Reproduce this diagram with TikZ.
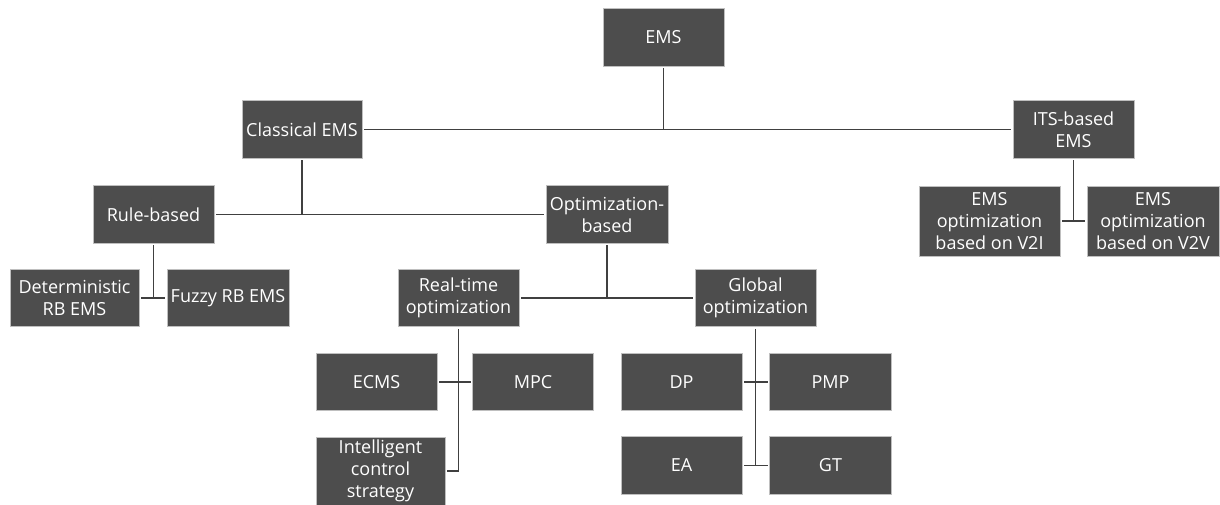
\documentclass[tikz,border=0pt]{standalone}
\usepackage{fontspec}
\setmainfont{Open Sans}
\definecolor{boxfill}{HTML}{4D4D4D}
\definecolor{boxline}{HTML}{BFBFBF}
\definecolor{connline}{HTML}{404040}
\tikzset{
  box/.style={draw=boxline, line width=0.6pt, fill=boxfill, text=white, align=center,
    inner sep=0pt, outer sep=2pt, font=\fontsize{18}{22}\selectfont,
    minimum width=121pt, minimum height=57.5pt},
  conn/.style={draw=connline, line width=1.6pt}
}
\begin{document}
\begin{tikzpicture}[x=1pt,y=-1pt]
\useasboundingbox[fill=white] (0,0) rectangle (1220,504);
% nodes
\node[box] (ems) at (663.5,37.5) {EMS};
\node[box, minimum width=120pt] (cl) at (302,129.5) {Classical EMS};
\node[box] (its) at (1073.5,129.5) {ITS-based\\EMS};
\node[box] (rb) at (153.5,214.5) {Rule-based};
\node[box, minimum width=122pt] (ob) at (607,214.5) {Optimization-\\based};
\node[box, minimum width=141pt, minimum height=70pt] (v2i) at (989.5,221) {EMS\\optimization\\based on V2I};
\node[box, minimum width=132pt, minimum height=70pt] (v2v) at (1153,221) {EMS\\optimization\\based on V2V};
\node[box, minimum width=129pt] (det) at (74.5,298) {Deterministic\\RB EMS};
\node[box, minimum width=122pt] (fz) at (228,298) {Fuzzy RB EMS};
\node[box] (rt) at (458.5,298) {Real-time\\optimization};
\node[box] (go) at (755.5,298) {Global\\optimization};
\node[box] (ecms) at (376.5,382) {ECMS};
\node[box] (mpc) at (533,382) {MPC};
\node[box, minimum width=129pt, minimum height=68pt] (ics) at (380.5,471) {Intelligent\\control\\strategy};
\node[box] (dp) at (681.5,382) {DP};
\node[box, minimum width=122pt] (pmp) at (830.5,382) {PMP};
\node[box] (ea) at (681.5,465.5) {EA};
\node[box, minimum width=122pt] (gt) at (830.5,465.5) {GT};
% connectors
\draw[conn] (cl.east) -- (its.west);
\draw[conn] (ems.south) -- (ems.south |- cl.east);
\draw[conn] (rb.east) -- (ob.west);
\draw[conn] (cl.south) -- (cl.south |- rb.east);
\draw[conn] (det.east) -- (fz.west);
\draw[conn] (rb.south) -- (rb.south |- det.east);
\draw[conn] (v2i.east) -- (v2v.west);
\draw[conn] (its.south) -- (its.south |- v2i.east);
\draw[conn] (rt.east) -- (go.west);
\draw[conn] (ob.south) -- (ob.south |- rt.east);
\coordinate (rtend) at (rt.south |- ics.east);
\draw[conn] (rt.south) -- (rtend) -- (ics.east);
\draw[conn] (ecms.east) -- (mpc.west);
\draw[conn] (go.south) -- (go.south |- ea.east);
\draw[conn] (dp.east) -- (pmp.west);
\draw[conn] (ea.east) -- (gt.west);
\end{tikzpicture}
\end{document}
